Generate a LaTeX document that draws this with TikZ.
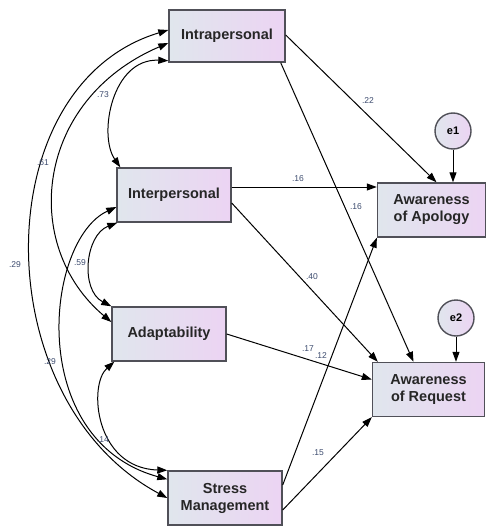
\documentclass[tikz,border=0pt]{standalone}
\usepackage{fontspec}
\setmainfont{Liberation Sans}
\usepackage{tikz}
\usetikzlibrary{arrows.meta,calc}

\definecolor{boxleft}{RGB}{224,230,237}
\definecolor{boxright}{RGB}{236,212,243}
\definecolor{boxline}{RGB}{80,80,88}
\definecolor{coefblue}{RGB}{60,75,110}

\begin{document}
\begin{tikzpicture}[
    x=1pt,
    y=-1pt,
    var/.style={
        rectangle,
        draw=boxline,
        line width=1.4pt,
        left color=boxleft,
        right color=boxright,
        minimum width=114pt,
        minimum height=54pt,
        align=center,
        text=black!85,
        font=\fontsize{14.5}{17}\selectfont\bfseries
    },
    err/.style={
        circle,
        draw=boxline,
        line width=1.4pt,
        left color=boxleft,
        right color=boxright,
        minimum size=36pt,
        inner sep=0pt,
        font=\fontsize{11}{13}\selectfont\bfseries
    },
    coef/.style={
        inner sep=0pt,
        text=coefblue,
        font=\fontsize{8.5}{10}\selectfont
    },
    arrow/.style={-{Triangle[length=10pt,width=7pt]}, line width=1pt},
    cov/.style={{Triangle[length=10pt,width=7pt]}-{Triangle[length=10pt,width=7pt]}, line width=1pt}
]
    \useasboundingbox (0,0) rectangle (487,527);

    % Predictors
    \node[var, minimum width=116pt, minimum height=52pt] (intra) at (227,36) {Intrapersonal};
    \node[var] (inter) at (174,195) {Interpersonal};
    \node[var] (adapt) at (169,334) {Adaptability};
    \node[var] (stress) at (225,498) {Stress\\Management};

    % Outcomes and errors
    \node[var, minimum width=108pt] (apology) at (431.5,210) {Awareness\\of Apology};
    \node[var, minimum width=112pt] (request) at (428.5,389.5) {Awareness\\of Request};
    \node[err] (e1) at (453,131) {e1};
    \node[err] (e2) at (456,318) {e2};

    % Paths
    \draw[arrow] ([yshift=1pt]intra.east) -- ([xshift=5pt]apology.north);
    \draw[arrow] ([xshift=-5pt]intra.south east) -- ([xshift=-15pt]request.north);
    \draw[arrow] ([yshift=8pt]inter.east) -- ([yshift=8pt]inter.east -| apology.west);
    \draw[arrow] ([yshift=-8pt]inter.east) -- ([xshift=6pt]request.north west);
    \draw[arrow] (adapt.east) -- ([yshift=10pt]request.west);
    \draw[arrow] ([yshift=13pt]stress.east) -- (apology.south west);
    \draw[arrow] ([yshift=-12pt]stress.east) -- (request.south west);
    \draw[arrow] (e1) -- (e1 |- apology.north);
    \draw[arrow] (e2) -- (e2 |- request.north);

    % Covariances
    \draw[cov] ([yshift=2pt]intra.south west) .. controls (112,58) and (98,135) .. ([xshift=4pt]inter.north west);
    \draw[cov] ([yshift=-7pt]intra.west) .. controls (35,100) and (20,245) .. ([yshift=12pt]adapt.west);
    \draw[cov] ([yshift=6pt]intra.west) .. controls (-15,85) and (-15,400) .. (stress.west);
    \draw[cov] ([yshift=-12pt]inter.west) .. controls (45,240) and (25,440) .. ([yshift=-9pt]stress.north west);
    \draw[cov] ([xshift=1pt]inter.south west) .. controls (85,235) and (80,290) .. (adapt.north west);
    \draw[cov] ([xshift=3pt]adapt.south west) .. controls (88,385) and (95,468) .. (stress.north west);

    % Estimates
    \node[coef] (c22) at (368,101) {.22};
    \node[coef] (c16a) at (356,207) {.16};
    \node[coef] (c16b) at (298,179) {.16};
    \node[coef] (c40) at (312,277) {.40};
    \node[coef] (c17) at (308,349) {.17};
    \node[coef] (c12) at (321,356) {.12};
    \node[coef] (c15) at (318,453) {.15};
    \node[coef] (c73) at (103,95) {.73};
    \node[coef] (c61) at (43,163) {.61};
    \node[coef] (c29a) at (15,265) {.29};
    \node[coef] (c59) at (80,263) {.59};
    \node[coef] (c29b) at (50,362) {.29};
    \node[coef] (c14) at (103,440) {.14};
\end{tikzpicture}
\end{document}
